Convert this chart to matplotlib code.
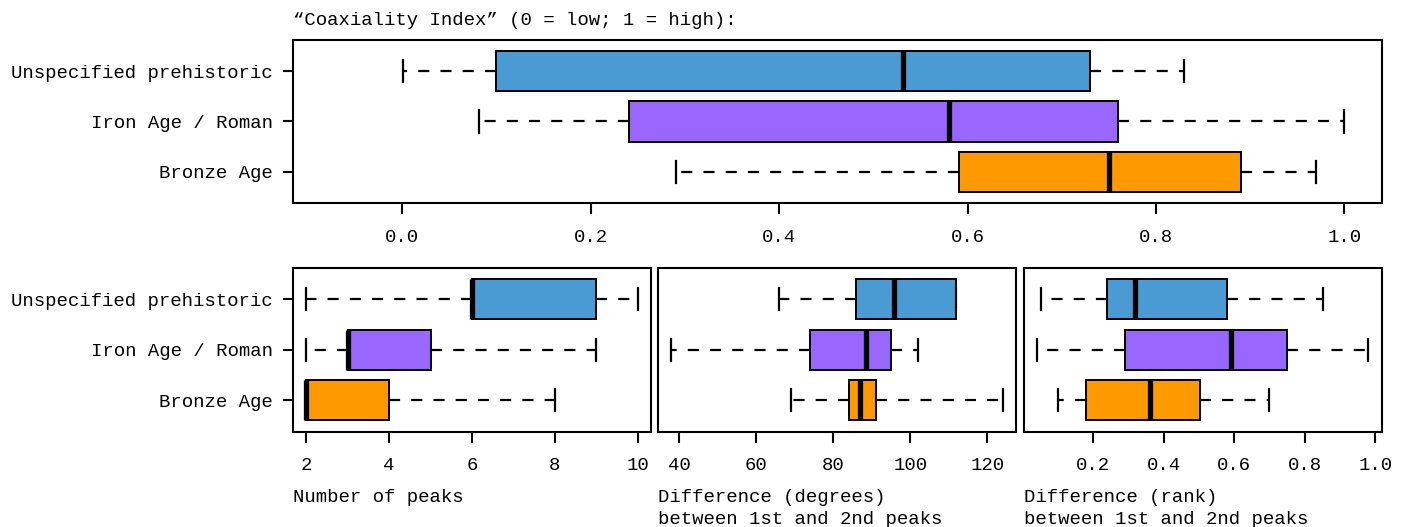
import matplotlib.pyplot as plt

plt.rcParams['font.family'] = ['Liberation Mono', 'DejaVu Sans']
plt.rcParams['font.size'] = 13.7

groups = ['Bronze Age', 'Iron Age / Roman', 'Unspecified prehistoric']
colors = ['#ff9900', '#9966ff', '#4a9ad4']

# five-number summaries per group: whisker low, Q1, median, Q3, whisker high
coax = [[0.291, 0.591, 0.750, 0.890, 0.970],
        [0.081, 0.241, 0.580, 0.760, 1.000],
        [0.001, 0.100, 0.531, 0.730, 0.830]]
peaks = [[2, 2, 2, 4, 8],
         [2, 3, 3, 5, 9],
         [2, 6, 6, 9, 10]]
deg_diff = [[69.0, 84.0, 86.9, 91.1, 124.0],
            [38.0, 74.0, 88.5, 95.0, 102.1],
            [65.9, 86.0, 95.9, 111.8, 112.0]]
rank_diff = [[0.101, 0.181, 0.361, 0.502, 0.699],
             [0.040, 0.291, 0.590, 0.751, 0.981],
             [0.052, 0.240, 0.320, 0.581, 0.851]]

coax_ticks = [0.0, 0.2, 0.4, 0.6, 0.8, 1.0]
peak_ticks = [2, 4, 6, 8, 10]
deg_ticks = [40, 60, 80, 100, 120]
rank_ticks = [0.2, 0.4, 0.6, 0.8, 1.0]

W, H = 1404, 527
fig = plt.figure(figsize=(W / 100, H / 100), dpi=100)


def px_axes(x0, y0, x1, y1):
    # axes from pixel box (top-left origin)
    return fig.add_axes([x0 / W, 1 - y1 / H, (x1 - x0) / W, (y1 - y0) / H])


def draw_box(ax, summ, xlim, ticks, fmt, ylabels=True):
    stats = [dict(whislo=s[0], q1=s[1], med=s[2], q3=s[3], whishi=s[4], label=g)
             for s, g in zip(summ, groups)]
    bp = ax.bxp(stats, positions=[1, 2, 3], widths=0.8, orientation='horizontal',
                patch_artist=True, showfliers=False, capwidths=0.44,
                boxprops=dict(linewidth=1.4, edgecolor='black'),
                whiskerprops=dict(linewidth=1.6, linestyle=(0, (5, 5)), color='black'),
                capprops=dict(linewidth=1.6, color='black'),
                medianprops=dict(linewidth=3.8, color='black', solid_capstyle='butt'))
    for patch, c in zip(bp['boxes'], colors):
        patch.set_facecolor(c)
    ax.set_xlim(xlim)
    ax.set_ylim(0.38, 3.62)
    ax.set_xticks(ticks)
    ax.set_xticklabels([fmt.format(t) for t in ticks])
    ax.tick_params(axis='x', length=8, width=1.5, pad=10.5)
    if ylabels:
        ax.tick_params(axis='y', length=7.5, width=1.5, pad=7)
    else:
        ax.set_yticks([])
    for sp in ax.spines.values():
        sp.set_linewidth(1.5)


ax_top = px_axes(293, 40, 1382, 203)
draw_box(ax_top, coax, (-0.116, 1.040), coax_ticks, '{:.1f}')

ax1 = px_axes(293, 268, 651, 431.5)
draw_box(ax1, peaks, (1.68, 10.32), peak_ticks, '{:d}')
ax2 = px_axes(658, 268, 1016, 431.5)
draw_box(ax2, deg_diff, (34.56, 127.44), deg_ticks, '{:d}', ylabels=False)
ax3 = px_axes(1023.5, 268, 1381.7, 431.5)
draw_box(ax3, rank_diff, (0.0024, 1.0186), rank_ticks, '{:.1f}', ylabels=False)

fig.text(293 / W, 1 - 25 / H, '\u201cCoaxiality Index\u201d (0 = low; 1 = high):',
         ha='left', va='baseline')
fig.text(293 / W, 1 - 502 / H, 'Number of peaks', ha='left', va='baseline')
fig.text(658 / W, 1 - 502 / H, 'Difference (degrees)', ha='left', va='baseline')
fig.text(658 / W, 1 - 524 / H, 'between 1st and 2nd peaks', ha='left', va='baseline')
fig.text(1023.5 / W, 1 - 502 / H, 'Difference (rank)', ha='left', va='baseline')
fig.text(1023.5 / W, 1 - 524 / H, 'between 1st and 2nd peaks', ha='left', va='baseline')

fig.savefig('out.png', dpi=100)
